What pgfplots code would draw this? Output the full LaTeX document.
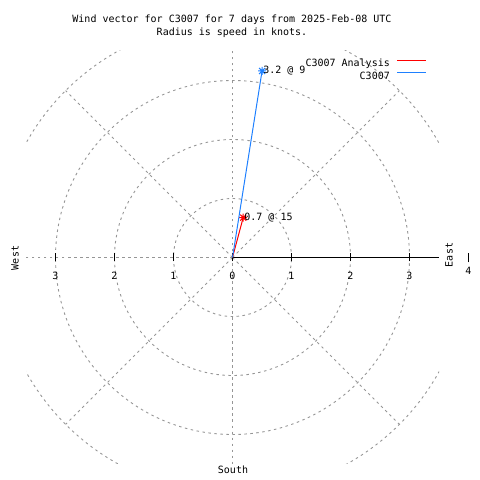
\documentclass[border=0pt]{standalone}
\usepackage{fontspec}
\setmainfont{DejaVu Sans Mono}
\usepackage{pgfplots}
\pgfplotsset{compat=1.18}
\definecolor{gridgray}{RGB}{150,150,150}
\definecolor{vecblue}{RGB}{30,128,255}
\tikzset{gridline/.style={gridgray, line width=0.9bp, dash pattern=on 2.5bp off 3.5bp}}
\pgfdeclareplotmark{gstar}{%
  \pgfpathmoveto{\pgfqpoint{-\pgfplotmarksize}{0pt}}%
  \pgfpathlineto{\pgfqpoint{\pgfplotmarksize}{0pt}}%
  \pgfpathmoveto{\pgfqpoint{0pt}{-\pgfplotmarksize}}%
  \pgfpathlineto{\pgfqpoint{0pt}{\pgfplotmarksize}}%
  \pgfpathmoveto{\pgfqpoint{-0.75\pgfplotmarksize}{-0.75\pgfplotmarksize}}%
  \pgfpathlineto{\pgfqpoint{0.75\pgfplotmarksize}{0.75\pgfplotmarksize}}%
  \pgfpathmoveto{\pgfqpoint{-0.75\pgfplotmarksize}{0.75\pgfplotmarksize}}%
  \pgfpathlineto{\pgfqpoint{0.75\pgfplotmarksize}{-0.75\pgfplotmarksize}}%
  \pgfusepathqstroke}
\begin{document}
\fontsize{10bp}{13bp}\selectfont
\begin{tikzpicture}
\path[use as bounding box] (0bp,0bp) rectangle (480bp,480bp);
\begin{axis}[
  at={(26bp,16bp)}, anchor=south west,
  scale only axis, width=413bp, height=413bp,
  xmin=-3.5, xmax=3.5, ymin=-3.5, ymax=3.5,
  hide axis, clip mode=individual,
  legend plot pos=right, legend cell align=right,
  legend style={at={(0.971,0.981)}, anchor=north east, draw=none, fill=none,
    inner sep=0pt, row sep=3bp, column sep=7bp,
    nodes={inner sep=0pt, text height=7.5bp, text depth=2bp}},
  legend image code/.code={\draw[#1] (0bp,3.3bp) -- (29bp,3.3bp);},
]
\begin{scope}
  \clip (rel axis cs:0,0) rectangle (rel axis cs:1,1);
  \pgfplotsinvokeforeach{1,2,3,4}{\draw[gridline] (axis cs:0,0) circle[radius=#1*59bp];}
  \pgfplotsinvokeforeach{45,90,135,180,225,270,315}{\draw[gridline] (axis cs:0,0) -- ++(#1:236bp);}
\end{scope}
\draw[black, line width=1bp] (axis cs:0,0) -- (axis cs:3.5,0);
\pgfplotsinvokeforeach{-3,-2,-1,0,1,2,3}{\draw[black, line width=0.9bp] (axis cs:#1,0) ++(0bp,-4bp) -- ++(0bp,8bp);}
\draw[black, line width=0.9bp] (axis cs:4,0) ++(0bp,-5bp) -- ++(0bp,9bp);
\node at (axis cs:-3,0) [yshift=-18.5bp] {3};
\node at (axis cs:-2,0) [yshift=-18.5bp] {2};
\node at (axis cs:-1,0) [yshift=-18.5bp] {1};
\node at (axis cs:0,0) [yshift=-18.5bp] {0};
\node at (axis cs:1,0) [yshift=-18.5bp] {1};
\node at (axis cs:2,0) [yshift=-18.5bp] {2};
\node at (axis cs:3,0) [yshift=-18.5bp] {3};
\node at (axis cs:4,0) [yshift=-13bp] {4};
\addplot[red, line width=1bp, mark=gstar, mark size=4bp, mark indices={2}] coordinates {(0,0) (0.181,0.676)};
\addlegendentry{C3007 Analysis}
\addplot[vecblue, line width=1bp, mark=gstar, mark size=4bp, mark indices={2}] coordinates {(0,0) (0.501,3.161)};
\addlegendentry{C3007}
\node[anchor=west, inner sep=0pt, xshift=1bp] at (axis cs:0.501,3.161) {3.2 @ 9};
\node[anchor=west, inner sep=0pt, xshift=1bp] at (axis cs:0.181,0.676) {0.7 @ 15};
\end{axis}
\node at (232bp,460bp) {Wind vector for C3007 for 7 days from 2025-Feb-08 UTC};
\node at (232bp,447bp) {Radius is speed in knots.};
\node[rotate=90] at (15bp,222bp) {West};
\node[rotate=90] at (449bp,225bp) {East};
\node at (233bp,10bp) {South};
\end{tikzpicture}
\end{document}
